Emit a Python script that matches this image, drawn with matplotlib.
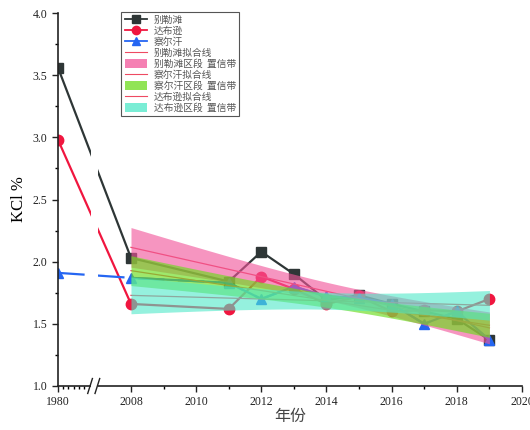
import numpy as np
import matplotlib
matplotlib.use("Agg")
import matplotlib.pyplot as plt
from matplotlib.patches import Rectangle, Patch
from matplotlib.lines import Line2D
import matplotlib.transforms as mtransforms

# datos
years = [1980, 2008, 2011, 2012, 2013, 2014, 2015, 2016, 2017, 2018, 2019]
bielete = [3.56, 2.03, 1.84, 2.08, 1.90, 1.69, 1.73, 1.66, 1.60, 1.54, 1.37]
dabuxun = [2.98, 1.66, 1.62, 1.88, 1.78, 1.66, 1.72, 1.60, 1.61, 1.60, 1.70]
chaerhan = [1.91, 1.87, 1.83, 1.70, 1.80, 1.72, 1.71, 1.66, 1.50, 1.60, 1.37]

names = ["别勒滩", "达布逊", "察尔汗"]
fit_names = ["别勒滩拟合线", "察尔汗拟合线", "达布逊拟合线"]
band_names = ["别勒滩区段  置信带", "察尔汗区段  置信带", "达布逊区段  置信带"]
xticks_major = [1980, 2008, 2010, 2012, 2014, 2016, 2018, 2020]
yticks_major = [1.0, 1.5, 2.0, 2.5, 3.0, 3.5, 4.0]

# eje roto: 1980..2008 comprimido
GAP = 2.24
K = GAP / 28.0


def fwd(x):
    x = np.asarray(x, dtype=float)
    return np.where(x >= 2008, x, 2008 - GAP + (x - 1980) * K)


def inv(p):
    p = np.asarray(p, dtype=float)
    return np.where(p >= 2008, p, 1980 + (p - (2008 - GAP)) / K)


def banda(x, y, t=2.306):  # recta de ajuste y banda de confianza 95%
    x = np.asarray(x, float)
    y = np.asarray(y, float)
    b, a = np.polyfit(x, y, 1)
    n = len(x)
    res = y - (a + b * x)
    s = np.sqrt(np.sum(res ** 2) / (n - 2))
    xm = x.mean()
    sxx = np.sum((x - xm) ** 2)
    xs = np.linspace(x.min(), x.max(), 60)
    ys = a + b * xs
    se = s * np.sqrt(1.0 / n + (xs - xm) ** 2 / sxx)
    return xs, ys, ys - t * se, ys + t * se


plt.rcParams['font.family'] = ['Liberation Serif', 'DejaVu Serif']
cjk = ['Noto Sans CJK SC', 'DejaVu Sans']

fig = plt.figure(figsize=(5.3, 4.3), dpi=100)
ax = fig.add_axes([58 / 530, 1 - 386 / 430, 464 / 530, 373 / 430])
ax.set_xscale('function', functions=(fwd, inv))

c_black = "#2e3636"
c_red = "#f0163f"
c_blue = "#2566f2"
c_fit = "#ee4a62"

ax.plot(years, bielete, color=c_black, lw=1.6, marker='s', ms=7, zorder=2)
ax.plot(years, dabuxun, color=c_red, lw=1.6, marker='o', ms=7.5, zorder=2)
ax.plot(years, chaerhan, color=c_blue, lw=1.6, marker='^', ms=7.5, zorder=2,
        dashes=[12, 6])
# segmento 2008-2019 del azul en linea continua
ax.plot(years[1:], chaerhan[1:], color=c_blue, lw=1.6, zorder=2)

colores_banda = ["#f2559a", "#6cdc1e", "#4ee8c8"]
alfas = [0.62, 0.66, 0.6]
series_fit = [bielete, chaerhan, dabuxun]
for serie, cb, al in zip(series_fit, colores_banda, alfas):
    xs, ys, lo, hi = banda(years[1:], serie[1:])
    ax.plot(xs, ys, color=c_fit, lw=0.9, zorder=2.2)
    ax.fill_between(xs, lo, hi, color=cb, alpha=al, lw=0, zorder=3)

ax.set_xlim(1980, 2020)
ax.set_ylim(1.0, 4.0)
ax.set_xticks(xticks_major)
ax.set_xticks([1982, 1984, 1986, 1988, 1990] + list(range(2009, 2020, 2)), minor=True)
ax.set_yticks(yticks_major)
ax.set_yticks(np.arange(1.25, 4.0, 0.5), minor=True)
ax.set_yticklabels([f"{v:.1f}" for v in yticks_major])
ax.tick_params(axis='both', which='major', direction='out', length=4, width=1,
               labelsize=8.5, colors='#222222')
ax.tick_params(axis='both', which='minor', direction='out', length=2.5, width=1)
ax.spines['top'].set_visible(False)
ax.spines['right'].set_visible(False)
for sp in ('left', 'bottom'):
    ax.spines[sp].set_linewidth(1.2)
    ax.spines[sp].set_color('#222222')

# corte del eje
trans = mtransforms.blended_transform_factory(ax.transData, ax.transAxes)
ax.add_patch(Rectangle((1992.6, -0.03), 2.8, 1.1, transform=trans,
                       facecolor='white', edgecolor='none', zorder=5, clip_on=False))
for x0 in (1991.4, 1994.2):
    ax.plot([x0, x0 + 1.8], [-0.02, 0.02], transform=trans, color='#222222',
            lw=1.0, clip_on=False, zorder=6)

ax.set_ylabel("KCl %", fontsize=12, labelpad=4)
ax.set_xlabel("年份", fontsize=11.5, family=cjk, labelpad=0, color='#444444')

handles = [
    Line2D([], [], color=c_black, lw=1.3, marker='s', ms=5.5),
    Line2D([], [], color=c_red, lw=1.3, marker='o', ms=6),
    Line2D([], [], color=c_blue, lw=1.3, marker='^', ms=6),
    Line2D([], [], color=c_fit, lw=0.8),
    Patch(facecolor=colores_banda[0], alpha=0.75, lw=0),
    Line2D([], [], color=c_fit, lw=0.8),
    Patch(facecolor=colores_banda[1], alpha=0.75, lw=0),
    Line2D([], [], color=c_fit, lw=0.8),
    Patch(facecolor=colores_banda[2], alpha=0.75, lw=0),
]
labels = names + [fit_names[0], band_names[0], fit_names[1], band_names[1],
                  fit_names[2], band_names[2]]
leg = ax.legend(handles, labels, loc='upper left', bbox_to_anchor=(0.136, 1.003),
                borderaxespad=0, prop={'family': cjk, 'size': 7},
                handlelength=2.3, handleheight=1.0, labelspacing=0.1,
                borderpad=0.35, handletextpad=0.7, fancybox=False,
                edgecolor='#555555', framealpha=1)
leg.get_frame().set_linewidth(0.8)
for t in leg.get_texts():
    t.set_color('#555555')

fig.savefig("out.png", dpi=100)
